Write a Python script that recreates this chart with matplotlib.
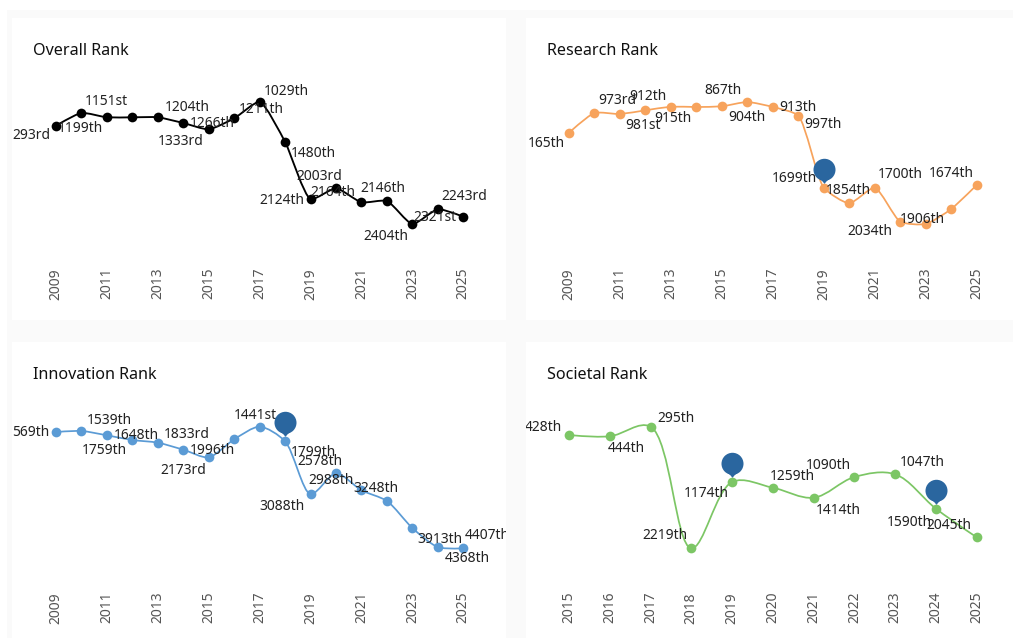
import matplotlib
matplotlib.use("Agg")
import matplotlib.pyplot as plt
from matplotlib.patches import PathPatch, Rectangle
from matplotlib.path import Path
from matplotlib.transforms import Affine2D

plt.rcParams["font.family"] = ["Noto Sans", "DejaVu Sans"]

# values are heights (the plot has no y scale, rank labels do not line up with it)
years_long = list(range(2009, 2026))
years_short = list(range(2015, 2026))

overall_vals = [144.3, 157, 152.7, 152.7, 152.7, 147, 140.7, 151.7, 168, 128, 71, 81.7, 67.7, 69, 46, 60.7, 53.3]
research_vals = [137.3, 157, 156, 159.7, 163.3, 163, 163.7, 168, 163, 154.3, 82.3, 66.7, 82.3, 48.3, 46, 61, 85]
innovation_vals = [162, 163, 158.7, 154, 151.3, 144.3, 136.7, 154.7, 167.3, 152.7, 99.7, 120.7, 103.7, 93, 66, 47, 45.7]
societal_vals = [159, 157.7, 167.3, 45.7, 112, 106.3, 96.3, 117, 119.7, 85.3, 56.7]

overall_labels = {2009: "293rd", 2010: "1199th", 2011: "1151st", 2013: "1204th", 2014: "1333rd", 2015: "1266th",
                  2016: "1211th", 2017: "1029th", 2018: "1480th", 2019: "2124th", 2020: "2003rd", 2021: "2164th",
                  2022: "2146th", 2023: "2404th", 2024: "2321st", 2025: "2243rd"}
research_labels = {2009: "165th", 2010: "973rd", 2011: "981st", 2012: "912th", 2013: "915th", 2015: "867th",
                   2016: "904th", 2017: "913th", 2018: "997th", 2019: "1699th", 2020: "1854th", 2021: "1700th",
                   2022: "2034th", 2023: "1906th", 2025: "1674th"}
innovation_labels = {2009: "569th", 2010: "1539th", 2011: "1759th", 2012: "1648th", 2013: "1833rd", 2014: "2173rd",
                     2015: "1996th", 2017: "1441st", 2018: "1799th", 2019: "3088th", 2020: "2578th", 2021: "2988th",
                     2022: "3248th", 2023: "3913th", 2024: "4368th", 2025: "4407th"}
societal_labels = {2015: "428th", 2016: "444th", 2017: "295th", 2018: "2219th", 2019: "1174th", 2020: "1259th",
                   2021: "1414th", 2022: "1090th", 2023: "1047th", 2024: "1590th", 2025: "2045th"}

research_pins = [2019]
innovation_pins = [2018]
societal_pins = [2019, 2024]

# label offsets in pixels from the point, same order as the label dicts
overall_off = [(-25, -9), (-1, -14), (-1, 17), (29, 11), (-3, -17), (4, 7), (27, 10), (27, 12), (28, -10), (-29, 0),
               (-17, 13), (-29, 11), (-4, 14), (-27, -11), (-3, -7), (1, 21)]
research_off = [(-23, -10), (23, 14), (23, -10), (2, 15), (2, -11), (1, 17), (0, -14), (25, 1), (25, -8), (-29, 10),
                (-1, 14), (26, 14), (-30, -9), (-3, 6), (-25, 13)]
innovation_off = [(-25, 1), (28, 12), (-3, -14), (4, 6), (29, 10), (0, -19), (4, 8), (-4, 13), (28, -10), (-29, -11),
                  (-16, 13), (-30, 11), (-11, 14), (28, -10), (29, -10), (24, 14)]
societal_off = [(-26, 9), (17, -11), (25, 10), (-26, 14), (-26, -10), (19, 13), (25, -12), (-26, 13), (27, 13),
                (-27, -12), (-28, 13)]

W, H = 1013, 638
PAGE = "#fafafa"
PIN = "#2a669f"
TEXT = "#222222"

fig = plt.figure(figsize=(W / 100, H / 100), dpi=100, facecolor="white")
fig.add_artist(Rectangle((7 / W, 0), 1, 1 - 10 / H, transform=fig.transFigure, facecolor=PAGE, edgecolor="none",
                         zorder=-1))

# teardrop pin, origin at the data point
pin_circle = Path.unit_circle().transformed(Affine2D().scale(11).translate(0, 18.7))
pin_tip = Path([(0, 4.7), (4.5, 10), (-4.5, 10), (0, 4.7)], [Path.MOVETO, Path.LINETO, Path.LINETO, Path.CLOSEPOLY])
pin_marker = Path.make_compound_path(pin_circle, pin_tip)


def spline(ax, years, vals, color, lw, smooth):
    # plotly style spline, done in pixels so the curve does not depend on the axis units
    pts = ax.transData.transform(list(zip(years, vals)))
    ctrl = []
    for p0, p1, p2 in zip(pts[:-2], pts[1:-1], pts[2:]):
        d1 = p0 - p1
        d2 = p2 - p1
        a1 = (d1 @ d1) ** 0.25
        a2 = (d2 @ d2) ** 0.25
        num = (a2 ** 2 * d1 - a1 ** 2 * d2) * smooth
        ctrl.append((p1 + num / (3 * a2 * (a1 + a2)), p1 - num / (3 * a1 * (a1 + a2))))
    verts = [pts[0], ctrl[0][0], pts[1]]
    codes = [Path.MOVETO, Path.CURVE3, Path.CURVE3]
    for i in range(1, len(pts) - 2):
        verts += [ctrl[i - 1][1], ctrl[i][0], pts[i + 1]]
        codes += [Path.CURVE4] * 3
    verts += [ctrl[-1][1], pts[-1]]
    codes += [Path.CURVE3, Path.CURVE3]
    data_verts = ax.transData.inverted().transform(verts)
    ax.add_patch(PathPatch(Path(data_verts, codes), fill=False, edgecolor=color, linewidth=lw, zorder=2))


def panel(rect, title, years, vals, labels, offsets, color, tick_step, plot_x, base, lw, smooth, pins=()):
    left, top, right, bottom = rect
    ax = fig.add_axes([left / W, 1 - bottom / H, (right - left) / W, (bottom - top) / H])
    ax.set_facecolor("white")
    for s in ("top", "left", "right"):
        ax.spines[s].set_visible(False)

    # pixels per year, then limits so first and last year land on plot_x
    sx = (plot_x[1] - plot_x[0]) / (years[-1] - years[0])
    ax.set_xlim(years[0] - (plot_x[0] - left) / sx, years[-1] + (right - plot_x[1]) / sx)
    ax.set_ylim(base - bottom, base - top)

    ax.spines["bottom"].set_position(("data", 0))
    ax.spines["bottom"].set_visible(False)
    ax.set_xticks(years[::tick_step])
    ax.tick_params(axis="x", length=0, pad=-1.5, labelsize=10, labelcolor="#555555", labelrotation=90)
    ax.set_yticks([])

    spline(ax, years, vals, color, lw, smooth)
    ax.plot(years, vals, linestyle="none", marker="o", markersize=7, color=color, markeredgewidth=0, zorder=3)

    for (year, text), (dx, dy) in zip(labels.items(), offsets):
        val = vals[years.index(year)]
        t = ax.annotate(text, (year, val), xytext=(dx, dy - 1.3), textcoords="offset pixels", ha="center", va="center",
                        fontsize=10, color=TEXT, zorder=5, annotation_clip=False)
        t.set_clip_on(True)
        t.set_clip_box(ax.bbox)

    for year in pins:
        ax.plot([year], [vals[years.index(year)]], linestyle="none", marker=pin_marker, markersize=42.8,
                color=PIN, markeredgewidth=0, zorder=6)

    ax.text(21 / (right - left), 1 - 33 / (bottom - top), title, transform=ax.transAxes, fontsize=11.6,
            color="#111111", ha="left", va="center")


panel((12, 18, 506, 320), "Overall Rank", years_long, overall_vals, overall_labels, overall_off,
      "#000000", 2, (56, 463.3), 270, 1.35, 0.6)
panel((526, 18, 1030, 320), "Research Rank", years_long, research_vals, research_labels, research_off,
      "#f7a35c", 2, (569, 976.7), 270, 1.25, 0.6, research_pins)
panel((12, 342, 506, 660), "Innovation Rank", years_long, innovation_vals, innovation_labels, innovation_off,
      "#5b9bd5", 2, (56, 463.3), 594, 1.25, 0.8, innovation_pins)
panel((526, 342, 1030, 660), "Societal Rank", years_short, societal_vals, societal_labels, societal_off,
      "#7cc665", 1, (569, 976.7), 594, 1.25, 1.0, societal_pins)

fig.savefig("out.png", dpi=100)
